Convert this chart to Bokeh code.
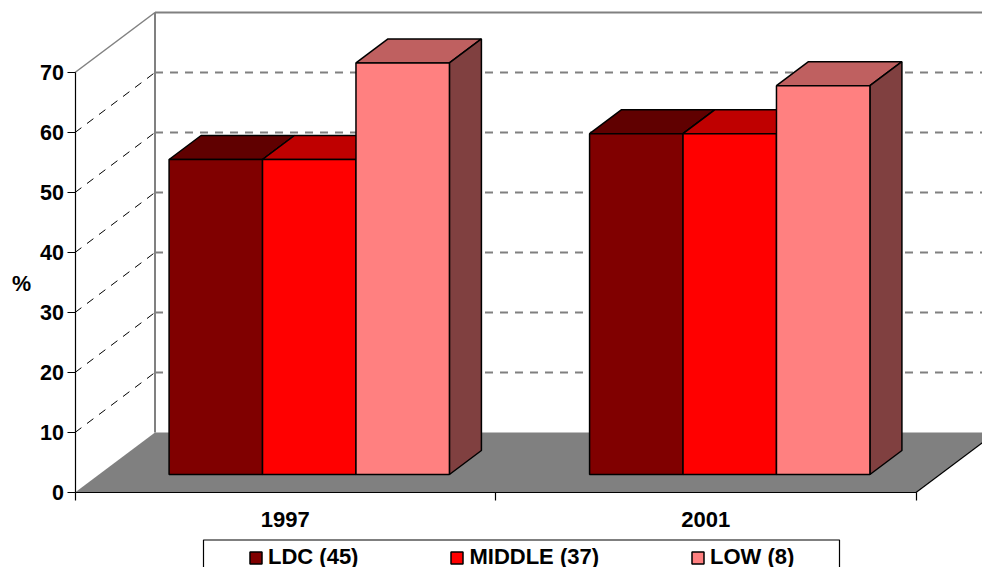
from bokeh.plotting import figure
from bokeh.models import (Range1d, FixedTicker, Legend, LegendItem, Label, BoxAnnotation, LinearAxis)
from bokeh.embed import file_html
from bokeh.resources import INLINE

FONT = "Liberation Sans"

categories = ["1997", "2001"]
series_names = ["LDC (45)", "MIDDLE (37)", "LOW (8)"]
ldc_values = [52.5, 56.8]
middle_values = [52.5, 56.8]
low_values = [68.6, 64.8]
y_ticks = [0, 10, 20, 30, 40, 50, 60, 70]

front_colors = ["#800000", "#ff0000", "#ff8080"]
top_colors = ["#600000", "#bf0000", "#bf6060"]
side_colors = ["#400000", "#800000", "#804040"]

# Page pixels per data unit, and where the data origin sits on the page
PX_X = 420.5
PX_Y = 6.0
ORIGIN_X = 74.5
ORIGIN_Y = 492.0
W, H = 982, 567

# Oblique projection of the chart's 3-D box: depth d runs 0..1 front to back
DX = 80 / PX_X
DY = 10.0
BAR_D0, BAR_D1 = 0.3, 0.7
GROUP = 2 / 3
BAR_W = GROUP / 3
ncat = len(categories)


def proj(x, y, d):
    return x + d * DX, y + d * DY


def page_x(px):
    return (px - ORIGIN_X) / PX_X


def page_y(py):
    return (ORIGIN_Y - py) / PX_Y


p = figure(width=W, height=H, output_backend="svg", toolbar_location=None,
           x_range=Range1d(page_x(0), page_x(W)), y_range=Range1d(page_y(H), page_y(0)),
           x_axis_type=None, y_axis_type=None,
           min_border_left=0, min_border_right=0, min_border_top=0, min_border_bottom=0)
p.outline_line_color = None
p.grid.visible = False
p.background_fill_color = "white"

top_val = y_ticks[-1]

# floor
fx, fy = zip(*[proj(0, 0, 0), proj(0, 0, 1), proj(ncat, 0, 1), proj(ncat, 0, 0)])
p.patch(list(fx), list(fy), fill_color="#808080", line_color=None)

# back wall: vertical edge and horizontal gridlines
bx, by = zip(proj(0, 0, 1), proj(0, top_val, 1))
p.line(list(bx), list(by), line_color="#808080", line_width=2)
for v in y_ticks[1:-1]:
    gx, gy = zip(proj(0, v, 1), proj(ncat, v, 1))
    p.line(list(gx), list(gy), line_color="#808080", line_width=2, line_dash="8 7")
    sx, sy = zip(proj(0, v, 0), proj(0, v, 1))
    p.line(list(sx), list(sy), line_color="black", line_width=1, line_dash="8 7")
gx, gy = zip(proj(0, top_val, 1), proj(ncat, top_val, 1))
p.line(list(gx), list(gy), line_color="#808080", line_width=2)
sx, sy = zip(proj(0, top_val, 0), proj(0, top_val, 1))
p.line(list(sx), list(sy), line_color="#808080", line_width=1.5)

# right edge of the floor
ex, ey = zip(proj(ncat, 0, 0), proj(ncat, 0, 1))
p.line(list(ex), list(ey), line_color="black", line_width=1.2)

# bars
legend_renderers = [None, None, None]
all_values = [ldc_values, middle_values, low_values]
for i in range(ncat):
    for j, vals in enumerate(all_values):
        v = vals[i]
        x0 = i + (1 - GROUP) / 2 + j * BAR_W
        x1 = x0 + BAR_W
        a = proj(x0, v, BAR_D0)
        b = proj(x1, v, BAR_D0)
        c = proj(x1, v, BAR_D1)
        d = proj(x0, v, BAR_D1)
        e = proj(x1, 0, BAR_D0)
        f = proj(x1, 0, BAR_D1)
        g = proj(x0, 0, BAR_D0)
        tx, ty = zip(a, b, c, d)
        p.patch(list(tx), list(ty), fill_color=top_colors[j], line_color="black", line_width=1.5)
        rx, ry = zip(b, c, f, e)
        p.patch(list(rx), list(ry), fill_color=side_colors[j], line_color="black", line_width=1.5)
        r = p.quad(left=[g[0]], right=[e[0]], bottom=[g[1]], top=[a[1]],
                   fill_color=front_colors[j], line_color="black", line_width=1.5)
        legend_renderers[j] = r

# axes, drawn at fixed places inside the frame
yax = LinearAxis(fixed_location=0)
yax.ticker = FixedTicker(ticks=y_ticks, minor_ticks=[])
yax.bounds = (0, top_val)
yax.axis_line_color = "black"
yax.axis_line_width = 1.2
yax.major_tick_in = 0
yax.major_tick_out = 8
yax.major_tick_line_color = "black"
yax.major_tick_line_width = 1.2
yax.major_label_standoff = 3
yax.major_label_text_font = FONT
yax.major_label_text_font_style = "bold"
yax.major_label_text_font_size = "21.5px"
yax.major_label_text_color = "black"
p.add_layout(yax, "left")

xax = LinearAxis(fixed_location=0)
centers = [i + 0.5 for i in range(ncat)]
xax.ticker = FixedTicker(ticks=centers, minor_ticks=list(range(ncat + 1)))
xax.major_label_overrides = {c: t for c, t in zip(centers, categories)}
xax.bounds = (0, ncat)
xax.axis_line_color = "black"
xax.axis_line_width = 1.2
xax.major_tick_line_color = None
xax.major_tick_in = 0
xax.major_tick_out = 0
xax.minor_tick_in = 0
xax.minor_tick_out = 8
xax.minor_tick_line_color = "black"
xax.minor_tick_line_width = 1.2
xax.major_label_standoff = 11
xax.major_label_text_font = FONT
xax.major_label_text_font_style = "bold"
xax.major_label_text_font_size = "22px"
xax.major_label_text_color = "black"
p.add_layout(xax, "below")

p.add_layout(Label(x=page_x(21), y=page_y(283), text="%", text_font=FONT, text_font_style="bold",
                   text_font_size="21.5px", text_align="center", text_baseline="middle",
                   text_color="black"))

# legend box and legend
p.add_layout(BoxAnnotation(left=page_x(203), right=page_x(839), top=page_y(539.5), bottom=page_y(590),
                           fill_color="white", fill_alpha=1, line_color="black", line_alpha=1,
                           line_width=1.2, level="overlay"))
legend = Legend(items=[LegendItem(label=n, renderers=[r]) for n, r in zip(series_names, legend_renderers)],
                orientation="horizontal", location=(248, -3), padding=10, margin=0, spacing=91,
                glyph_width=15, glyph_height=15, label_standoff=5,
                label_text_font=FONT, label_text_font_style="bold", label_text_font_size="22px",
                label_text_color="black", border_line_color=None, background_fill_alpha=0,
                inactive_fill_alpha=0, level="overlay")
p.add_layout(legend)

open("out.html", "w").write(file_html(p, INLINE))
